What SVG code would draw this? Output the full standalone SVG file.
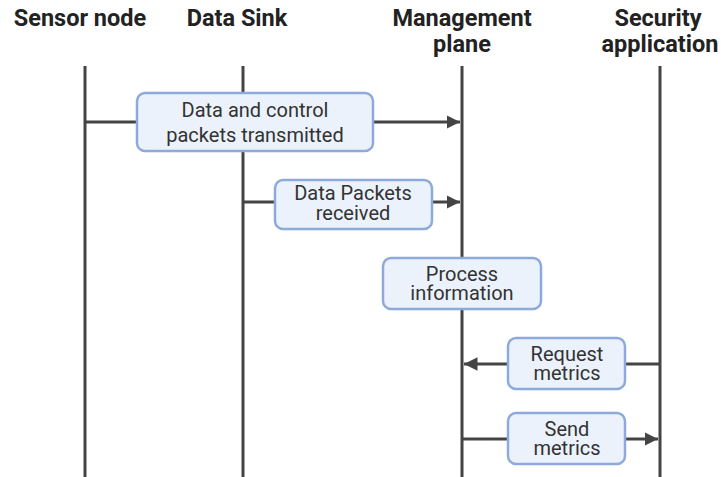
<svg xmlns="http://www.w3.org/2000/svg" width="721" height="477" viewBox="0 0 721 477">
<style>
.title{font-family:Roboto,"Liberation Sans",sans-serif;font-weight:bold;font-size:23.5px;fill:#222;text-anchor:middle}
.life{stroke:#444;stroke-width:3;fill:none}
.conn{stroke:#444;stroke-width:3;fill:none}
.box{fill:#ebf2fc;stroke:#8eaadb;stroke-width:2.5}
.lbl{font-family:Roboto,"Liberation Sans",sans-serif;font-size:20px;fill:#333;text-anchor:middle}
</style>
<defs>
<marker id="ah" viewBox="0 0 10 10" refX="10" refY="5" markerWidth="4.5" markerHeight="4.5" markerUnits="strokeWidth" orient="auto">
<path d="M0,0 L10,5 L0,10 z" fill="#444"/>
</marker>
</defs>
<rect width="721" height="477" fill="#fff"/>
<g id="lifelines">
<text class="title" x="80" y="26">Sensor node</text>
<text class="title" x="237" y="26">Data Sink</text>
<text class="title" x="462" y="26">Management</text>
<text class="title" x="462" y="52">plane</text>
<text class="title" x="658" y="26">Security</text>
<text class="title" x="660" y="52">application</text>
<line class="life" x1="85" y1="66" x2="85" y2="477"/>
<line class="life" x1="243" y1="66" x2="243" y2="477"/>
<line class="life" x1="462" y1="66" x2="462" y2="477"/>
<line class="life" x1="660" y1="66" x2="660" y2="477"/>
</g>
<g id="connectors">
<line class="conn" x1="85" y1="122" x2="460" y2="122" marker-end="url(#ah)"/>
<line class="conn" x1="243" y1="202" x2="460" y2="202" marker-end="url(#ah)"/>
<line class="conn" x1="660" y1="364" x2="464" y2="364" marker-end="url(#ah)"/>
<line class="conn" x1="462" y1="439" x2="658" y2="439" marker-end="url(#ah)"/>
</g>
<g id="n1">
<rect class="box" x="137" y="93" width="236" height="58" rx="8"/>
<text class="lbl" x="255" y="117">Data and control</text>
<text class="lbl" x="255" y="142">packets transmitted</text>
</g>
<g id="n2">
<rect class="box" x="275" y="180" width="157" height="49" rx="8"/>
<text class="lbl" x="353" y="200">Data Packets</text>
<text class="lbl" x="353" y="220">received</text>
</g>
<g id="n3">
<rect class="box" x="383" y="258" width="158" height="51" rx="8"/>
<text class="lbl" x="462" y="281">Process</text>
<text class="lbl" x="462" y="300">information</text>
</g>
<g id="n4">
<rect class="box" x="508" y="338" width="117" height="51" rx="8"/>
<text class="lbl" x="567" y="361">Request</text>
<text class="lbl" x="567" y="380">metrics</text>
</g>
<g id="n5">
<rect class="box" x="508" y="413" width="117" height="51" rx="8"/>
<text class="lbl" x="567" y="436">Send</text>
<text class="lbl" x="567" y="455">metrics</text>
</g>
</svg>
